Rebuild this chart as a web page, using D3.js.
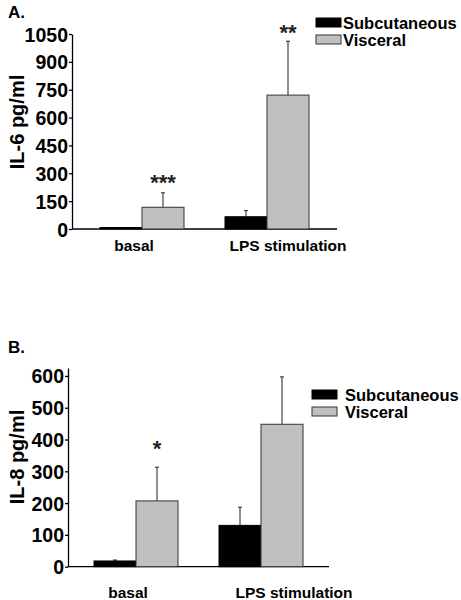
<!DOCTYPE html>
<html><head><meta charset="utf-8">
<script src="https://cdn.jsdelivr.net/npm/d3@7/dist/d3.min.js"></script>
<style>body{margin:0;background:#fff}text{font-family:"Liberation Sans",Arial,sans-serif;font-weight:bold}</style>
</head><body><svg id="c" width="461" height="600"></svg>
<script>
const categories = ["basal", "LPS stimulation"];
const seriesNames = ["Subcutaneous", "Visceral"];
const il6Sub = [8, 66];
const il6SubErr = [0, 33];
const il6Visc = [117, 721];
const il6ViscErr = [78, 290];
const il6Stars = ["***", "**"];
const il6Ticks = [0, 150, 300, 450, 600, 750, 900, 1050];
const il8Sub = [18, 130];
const il8SubErr = [3, 57];
const il8Visc = [207, 448];
const il8ViscErr = [106, 149];
const il8Stars = ["*", ""];
const il8Ticks = [0, 100, 200, 300, 400, 500, 600];
const colors = ["#000000", "#c0c0c0"];

const svg = d3.select("#c");

function panel(o) {
  const g = svg.append("g");
  const x = d3.scaleBand().domain(categories).range([o.x0, o.x1]).paddingInner(0.328).paddingOuter(o.po);
  const xs = d3.scaleBand().domain(seriesNames).range([0, x.bandwidth()]);
  const y = d3.scaleLinear().domain(o.domain).range([o.yb, o.yt]);
  const ax = g.append("g").attr("transform", `translate(${o.x0},0)`)
    .call(d3.axisLeft(y).tickValues(o.ticks).tickFormat(d3.format("d")).tickSize(3).tickPadding(1).tickSizeOuter(0));
  ax.select(".domain").attr("stroke", "#000").attr("stroke-width", 1.3);
  ax.selectAll(".tick line").attr("stroke", "#000").attr("stroke-width", 1.3);
  ax.selectAll("text").attr("font-size", 19.5).attr("fill", "#000").attr("dy", "0.36em");
  g.append("line").attr("x1", o.x0).attr("x2", o.x1).attr("y1", y(0)).attr("y2", y(0)).attr("stroke", "#000").attr("stroke-width", 1.3);
  const series = [o.sub, o.visc], errs = [o.subErr, o.viscErr];
  series.forEach((vals, si) => {
    categories.forEach((c, ci) => {
      const bx = x(c) + xs(seriesNames[si]);
      const v = vals[ci], e = errs[si][ci];
      const cx = bx + xs.bandwidth() / 2;
      if (e > 0) {
        g.append("line").attr("x1", cx).attr("x2", cx).attr("y1", y(v)).attr("y2", y(v + e)).attr("stroke", "#222").attr("stroke-width", 1);
        g.append("line").attr("x1", cx - 2).attr("x2", cx + 2).attr("y1", y(v + e)).attr("y2", y(v + e)).attr("stroke", "#222").attr("stroke-width", 1);
      }
      g.append("rect").attr("x", bx).attr("width", xs.bandwidth()).attr("y", y(v)).attr("height", y(0) - y(v))
        .attr("fill", colors[si]).attr("stroke", si === 0 ? "#000" : "#333").attr("stroke-width", 1);
      if (si === 1 && o.stars[ci]) {
        g.append("text").attr("x", cx).attr("y", y(v + e) - o.starGap[ci]).attr("text-anchor", "middle")
          .attr("font-size", 22).attr("fill", "#222").text(o.stars[ci]);
      }
    });
  });
  categories.forEach((c, ci) => {
    g.append("text").attr("x", x(c) + x.bandwidth() / 2 + o.labDx[ci]).attr("y", o.labY).attr("text-anchor", "middle")
      .attr("font-size", 15.5).attr("fill", "#000").text(c);
  });
  g.append("text").attr("transform", `translate(${o.titleX},${o.titleY}) rotate(-90)`)
    .attr("text-anchor", "middle").attr("font-size", 20).attr("fill", "#000").text(o.title);
  g.append("text").attr("x", 8).attr("y", o.letterY).attr("font-size", 17).attr("fill", "#000").text(o.letter);
  seriesNames.forEach((s, i) => {
    const ly = o.legY + i * o.legStep;
    g.append("rect").attr("x", o.legX).attr("y", ly).attr("width", 25).attr("height", 9)
      .attr("fill", colors[i]).attr("stroke", i === 0 ? "#000" : "#333").attr("stroke-width", 1);
    g.append("text").attr("x", o.legX + o.legTx).attr("y", ly + 10.5).attr("font-size", 16.5).attr("fill", "#000").text(s);
  });
}

panel({x0: 72, x1: 337, po: 0.224, domain: [0, 1050], yb: 229, yt: 34, ticks: il6Ticks,
  sub: il6Sub, subErr: il6SubErr, visc: il6Visc, viscErr: il6ViscErr, stars: il6Stars, starGap: [3, 1],
  labDx: [-8, 21], labY: 251, title: "IL-6 pg/ml", titleX: 24, titleY: 122, letter: "A.", letterY: 18,
  legX: 316, legY: 18, legStep: 17, legTx: 27});

panel({x0: 68, x1: 329, po: 0.208, domain: [0, 625], yb: 566.7, yt: 368, ticks: il8Ticks,
  sub: il8Sub, subErr: il8SubErr, visc: il8Visc, viscErr: il8ViscErr, stars: il8Stars, starGap: [11, 0],
  labDx: [-8, 33], labY: 598, title: "IL-8 pg/ml", titleX: 24, titleY: 457, letter: "B.", letterY: 353,
  legX: 312, legY: 390, legStep: 17, legTx: 33});
</script></body></html>
